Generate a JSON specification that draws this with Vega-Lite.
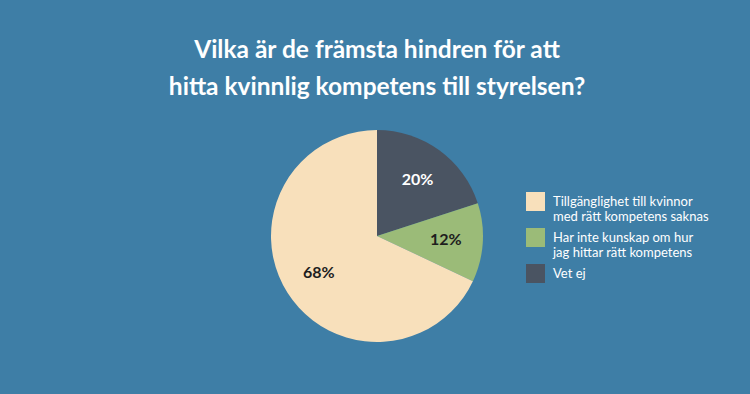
{
  "$schema": "https://vega.github.io/schema/vega-lite/v6.json",
  "autosize": {"type": "none"},
  "padding": {"top": 110, "left": 0, "right": 0, "bottom": 40},
  "width": 754,
  "height": 252,
  "background": "#3e7ea6",
  "config": {"view": {"stroke": null}, "font": "Lato"},
  "title": {
    "text": ["Vilka är de främsta hindren för att", "hitta kvinnlig kompetens till styrelsen?"],
    "color": "white",
    "font": "Lato",
    "fontWeight": "bold",
    "fontSize": 24.5,
    "lineHeight": 37,
    "anchor": "middle",
    "offset": 10
  },
  "data": {
    "values": [
      {"answer": "Vet ej", "percent": 20, "label": "20%", "order": 1},
      {"answer": "Har inte kunskap om hur jag hittar rätt kompetens", "percent": 12, "label": "12%", "order": 2},
      {"answer": "Tillgänglighet till kvinnor med rätt kompetens saknas", "percent": 68, "label": "68%", "order": 3}
    ]
  },
  "encoding": {
    "theta": {"field": "percent", "type": "quantitative", "stack": true},
    "order": {"field": "order", "type": "quantitative"}
  },
  "layer": [
    {
      "mark": {"type": "arc", "outerRadius": 106, "stroke": null},
      "encoding": {
        "color": {
          "field": "answer",
          "type": "nominal",
          "scale": {
            "domain": ["Tillgänglighet till kvinnor med rätt kompetens saknas", "Har inte kunskap om hur jag hittar rätt kompetens", "Vet ej"],
            "range": ["#f8e0bb", "#9bbb78", "#4a5462"]
          },
          "legend": {
            "title": null,
            "orient": "none",
            "legendX": 526,
            "legendY": 82,
            "symbolType": "square",
            "symbolSize": 361,
            "symbolStrokeWidth": 0,
            "labelColor": "white",
            "labelFont": "Lato",
            "labelFontSize": 13,
            "labelOffset": 8,
            "labelLimit": 300,
            "rowPadding": 4,
            "encode": {"labels": {"update": {"lineHeight": {"value": 15}}}},
            "labelExpr": "datum.label == 'Vet ej' ? 'Vet ej' : (datum.label == 'Har inte kunskap om hur jag hittar rätt kompetens' ? ['Har inte kunskap om hur', 'jag hittar rätt kompetens'] : ['Tillgänglighet till kvinnor', 'med rätt kompetens saknas'])"
          }
        }
      }
    },
    {
      "mark": {"type": "text", "radius": 69, "font": "Lato", "fontWeight": "bold", "fontSize": 16},
      "encoding": {
        "text": {"field": "label", "type": "nominal"},
        "color": {"condition": {"test": "datum.answer == 'Vet ej'", "value": "white"}, "value": "#1e1e1e"}
      }
    }
  ]
}
